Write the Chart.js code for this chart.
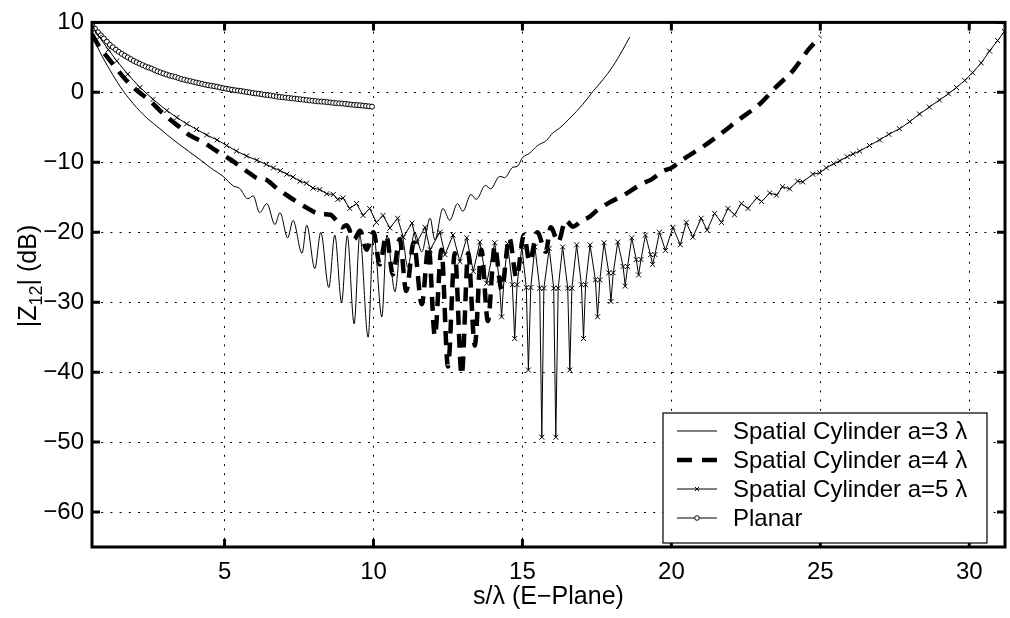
<!DOCTYPE html>
<html>
<head>
<meta charset="utf-8">
<script src="https://cdn.jsdelivr.net/npm/chart.js@4.4.1/dist/chart.umd.min.js"></script>
<style>
  html, body { margin: 0; background: #fff; }
  #wrap { width: 1010px; height: 618px; }
</style>
</head>
<body>
<div id="wrap"><canvas id="c" width="1010" height="618"></canvas></div>
<script>
const FONT = '"Liberation Sans", Arial, Helvetica, sans-serif';

const xTicks = [5, 10, 15, 20, 25, 30];
const yTicks = [-60, -50, -40, -30, -20, -10, 0, 10];
const labels = ['Spatial Cylinder a=3 \u03bb', 'Spatial Cylinder a=4 \u03bb', 'Spatial Cylinder a=5 \u03bb', 'Planar'];

// a = 3 lambda (thin solid)
const x3 = [0.55, 0.8, 1.15, 1.5, 1.93, 2.4, 2.83, 3.05, 3.5, 4.17, 4.6, 4.95, 5.3, 5.5, 5.78, 5.96, 6.18, 6.42, 6.69, 6.86,
  7.12, 7.3, 7.6, 7.76, 8.03, 8.23, 8.5, 8.7, 8.93, 9.12, 9.35, 9.54, 9.82, 10.0, 10.28, 10.45, 10.72, 10.95, 11.15, 11.38,
  11.62, 11.9, 12.06, 12.33, 12.56, 12.82, 13.0, 13.27, 13.45, 13.76, 13.93, 14.24, 14.4, 14.68, 14.82, 15.01, 15.24, 15.51,
  15.8, 16.02, 16.25, 16.59, 17.03, 17.36, 17.7, 18.03, 18.37, 18.6];
const y3 = [8.3, 5.9, 3.2, 0.8, -1.6, -3.7, -5.2, -6.0, -7.5, -9.6, -11.0, -12.0, -13.4, -13.7, -15.2, -14.8, -17.2, -15.9, -18.9, -17.2,
  -20.8, -18.3, -23.0, -19.0, -25.2, -20.0, -27.9, -20.4, -30.0, -20.5, -33.1, -20.4, -35.0, -20.0, -32.1, -20.4, -28.5, -20.4, -25.0, -20.0,
  -22.8, -18.0, -21.1, -16.6, -18.3, -15.9, -17.0, -14.6, -15.3, -13.3, -13.8, -12.0, -12.2, -10.7, -10.6, -9.3, -8.7, -7.6,
  -6.9, -5.8, -5.1, -3.7, -1.7, 0.1, 1.8, 3.7, 6.1, 7.9];

// a = 4 lambda (thick dashed)
const x4 = [0.55, 0.8, 1.26, 1.6, 2.05, 2.5, 2.83, 3.2, 3.5, 3.85, 4.28, 4.6, 4.85, 5.2, 5.5, 5.85, 6.12, 6.35, 6.75, 7.05,
  7.3, 7.55, 7.8, 8.05, 8.3, 8.55, 8.75, 8.93, 9.1, 9.35, 9.55, 9.77, 10.0, 10.21, 10.43, 10.65, 10.88, 11.1, 11.35, 11.62,
  11.85, 12.06, 12.28, 12.5, 12.73, 12.96, 13.18, 13.4, 13.62, 13.84, 14.07, 14.3, 14.56, 14.8, 15.05, 15.24, 15.5, 15.78,
  15.95, 16.2, 16.45, 16.7, 17.0, 17.25, 17.5, 17.9, 18.4, 19.0, 19.35, 19.7, 20.0, 20.35, 21.05, 21.6, 22.3, 22.96,
  23.5, 24.1, 24.6, 25.0];
const y4 = [8.3, 6.5, 4.0, 2.2, 0.3, -1.2, -2.6, -4.0, -5.0, -6.2, -7.1, -8.0, -8.7, -9.6, -10.5, -11.6, -12.3, -12.4, -13.7, -14.6,
  -15.3, -16.0, -16.6, -17.2, -17.4, -17.5, -18.3, -19.3, -19.0, -21.0, -19.8, -22.5, -20.0, -24.6, -20.5, -26.0, -21.0, -28.4, -21.5, -30.3,
  -22.0, -34.8, -22.5, -39.2, -23.0, -40.4, -23.0, -36.2, -22.5, -32.7, -22.0, -28.2, -20.8, -26.5, -20.4, -24.2, -20.0, -22.8,
  -19.3, -21.4, -18.3, -19.2, -18.3, -17.8, -16.9, -15.8, -14.7, -13.1, -12.4, -11.3, -10.8, -9.7, -7.8, -6.1, -3.8, -1.7,
  0.7, 3.2, 6.1, 8.0];

// a = 5 lambda (thin with x markers)
const x5 = [0.55, 0.8, 1.1, 1.38, 1.75, 2.16, 2.6, 3.06, 3.4, 3.73, 4.06, 4.4, 4.75, 5.07, 5.4, 5.74, 6.08, 6.4, 6.64, 6.87,
  7.09, 7.3, 7.53, 7.75, 7.97, 8.2, 8.43, 8.65, 8.8, 8.98, 9.2, 9.43, 9.65, 9.87, 10.1, 10.32, 10.55, 10.81, 11.0, 11.29,
  11.45, 11.73, 11.9, 12.23, 12.4, 12.67, 12.9, 13.13, 13.35, 13.57, 13.8, 14.07, 14.22, 14.3, 14.38, 14.5, 14.66, 14.74, 14.82, 14.98,
  15.13, 15.2, 15.28, 15.42, 15.58, 15.65, 15.72, 15.9, 16.05, 16.12, 16.2, 16.35, 16.52, 16.59, 16.66, 16.82, 16.98, 17.05, 17.12, 17.27,
  17.45, 17.52, 17.6, 17.74, 17.9, 17.97, 18.05, 18.2, 18.38, 18.45, 18.53, 18.67, 18.82, 18.9, 18.98, 19.13, 19.3, 19.37, 19.45, 19.6,
  19.8, 20.05, 20.3, 20.5, 20.72, 21.0, 21.2, 21.45, 21.68, 21.9, 22.12, 22.35, 22.57, 22.87, 23.03, 23.3, 23.53, 23.73, 23.97, 24.24,
  24.41, 24.75, 24.98, 25.2, 25.45, 25.65, 25.9, 26.1, 26.32, 26.65, 26.99, 27.3, 27.66, 28.0, 28.33, 28.66, 29.0, 29.3, 29.57, 29.85,
  30.11, 30.4, 30.68, 30.95, 31.18];
const y5 = [9.6, 7.9, 6.1, 4.5, 2.6, 0.7, -1.0, -2.6, -3.6, -4.5, -5.3, -6.1, -6.8, -7.6, -8.4, -9.1, -9.7, -10.3, -10.8, -11.2,
  -11.7, -12.1, -12.7, -13.0, -13.7, -13.9, -14.5, -14.6, -15.3, -15.1, -16.6, -15.9, -17.6, -16.6, -18.6, -17.6, -19.4, -18.0, -20.7, -18.7,
  -21.5, -19.3, -22.5, -20.0, -23.2, -20.4, -24.2, -20.8, -25.6, -21.4, -27.3, -21.5, -26.8, -32.1, -26.8, -21.6, -27.5, -35.2, -27.5, -22.1,
  -27.9, -39.7, -27.9, -22.1, -28.0, -49.3, -28.0, -22.3, -28.0, -49.3, -28.0, -22.1, -28.0, -39.7, -28.0, -21.8, -27.5, -35.2, -27.5, -21.8,
  -26.8, -32.1, -26.8, -21.5, -25.8, -29.9, -25.8, -21.4, -24.9, -27.7, -24.9, -20.8, -23.9, -26.1, -23.9, -20.4, -23.2, -24.6, -23.2, -20.0,
  -22.6, -19.3, -21.8, -18.6, -20.7, -18.0, -19.7, -17.3, -18.6, -16.6, -17.5, -15.9, -16.6, -15.1, -15.6, -14.4, -14.7, -13.5, -13.8, -12.7,
  -12.8, -11.7, -11.5, -10.8, -10.2, -9.8, -9.2, -8.8, -8.4, -7.6, -6.8, -6.0, -5.2, -4.2, -3.1, -2.1, -1.1, -0.2, 0.7, 1.7,
  2.8, 4.2, 5.9, 7.4, 8.7];

// Planar (thin with open circles)
const xp = [0.55, 0.65, 0.75, 0.85, 0.95, 1.05, 1.15, 1.25, 1.35, 1.45, 1.55, 1.65, 1.75, 1.85, 1.95, 2.05, 2.15, 2.25, 2.35, 2.45,
  2.55, 2.65, 2.75, 2.85, 2.95, 3.05, 3.15, 3.25, 3.35, 3.45, 3.55, 3.65, 3.75, 3.85, 3.95, 4.05, 4.15, 4.25, 4.35, 4.45,
  4.55, 4.65, 4.75, 4.85, 4.95, 5.05, 5.15, 5.25, 5.35, 5.45, 5.55, 5.65, 5.75, 5.85, 5.95, 6.05, 6.15, 6.25, 6.35, 6.45,
  6.55, 6.65, 6.75, 6.85, 6.95, 7.05, 7.15, 7.25, 7.35, 7.45, 7.55, 7.65, 7.75, 7.85, 7.95, 8.05, 8.15, 8.25, 8.35, 8.45,
  8.55, 8.65, 8.75, 8.85, 8.95, 9.05, 9.15, 9.25, 9.35, 9.45, 9.55, 9.65, 9.75, 9.85, 9.95];
const yp = [9.6, 9.1, 8.6, 8.15, 7.7, 7.25, 6.8, 6.45, 6.1, 5.8, 5.5, 5.25, 5.0, 4.75, 4.5, 4.3, 4.1, 3.9, 3.7, 3.55,
  3.4, 3.2, 3.0, 2.85, 2.7, 2.55, 2.4, 2.3, 2.2, 2.05, 1.9, 1.8, 1.7, 1.6, 1.5, 1.4, 1.3, 1.2, 1.1, 1.02,
  0.95, 0.88, 0.8, 0.7, 0.6, 0.52, 0.45, 0.38, 0.3, 0.25, 0.2, 0.12, 0.05, -0.02, -0.1, -0.15, -0.2, -0.28, -0.35, -0.4,
  -0.45, -0.52, -0.6, -0.65, -0.7, -0.75, -0.8, -0.85, -0.9, -0.95, -1.0, -1.05, -1.1, -1.15, -1.2, -1.25, -1.3, -1.32, -1.35, -1.4,
  -1.45, -1.5, -1.55, -1.58, -1.6, -1.65, -1.7, -1.75, -1.8, -1.82, -1.85, -1.9, -1.95, -2.0, -2.05];

const pts = (xs, ys) => xs.map((x, i) => ({ x, y: ys[i] }));
const minus = v => (v < 0 ? '\u2212' + Math.abs(v) : String(v));

// box, inner ticks, axis titles and legend, matlab style
const framePlugin = {
  id: 'frame',
  afterDraw(chart) {
    const { ctx, chartArea: a, scales: { x, y } } = chart;
    ctx.save();
    ctx.strokeStyle = '#000';
    ctx.lineWidth = 3;
    ctx.setLineDash([]);
    ctx.strokeRect(a.left, a.top, a.right - a.left, a.bottom - a.top);
    ctx.beginPath();
    xTicks.forEach(v => {
      const px = x.getPixelForValue(v);
      ctx.moveTo(px, a.bottom); ctx.lineTo(px, a.bottom - 8);
      ctx.moveTo(px, a.top); ctx.lineTo(px, a.top + 8);
    });
    yTicks.forEach(v => {
      const py = y.getPixelForValue(v);
      ctx.moveTo(a.left, py); ctx.lineTo(a.left + 8, py);
      ctx.moveTo(a.right, py); ctx.lineTo(a.right - 8, py);
    });
    ctx.stroke();

    // x title
    ctx.fillStyle = '#000';
    ctx.font = '25px ' + FONT;
    ctx.textAlign = 'center';
    ctx.textBaseline = 'middle';
    ctx.fillText('s/\u03bb (E\u2212Plane)', (a.left + a.right) / 2, 597);

    // y title with subscript
    ctx.translate(27, 276);
    ctx.rotate(-Math.PI / 2);
    ctx.textAlign = 'left';
    ctx.textBaseline = 'alphabetic';
    const big = '25px ' + FONT, small = '18px ' + FONT;
    ctx.font = big; const w1 = ctx.measureText('|Z').width, w3 = ctx.measureText('| (dB)').width;
    ctx.font = small; const w2 = ctx.measureText('12').width;
    let cx = -(w1 + w2 + w3) / 2;
    ctx.font = big; ctx.fillText('|Z', cx, 9); cx += w1;
    ctx.font = small; ctx.fillText('12', cx, 15); cx += w2;
    ctx.font = big; ctx.fillText('| (dB)', cx, 9);
    ctx.setTransform(1, 0, 0, 1, 0, 0);

    // legend
    const L = 663, T = 413, R = 987, B = 543;
    ctx.fillStyle = '#fff';
    ctx.fillRect(L, T, R - L, B - T);
    ctx.lineWidth = 1.2;
    ctx.strokeRect(L, T, R - L, B - T);
    const rows = [431, 460, 489, 518];
    ctx.font = '24px ' + FONT;
    ctx.textAlign = 'left';
    ctx.textBaseline = 'middle';
    rows.forEach((ry, i) => {
      ctx.strokeStyle = '#000';
      ctx.beginPath();
      if (i === 1) {
        ctx.lineWidth = 4.5;
        ctx.moveTo(677, ry); ctx.lineTo(692, ry);
        ctx.moveTo(702, ry); ctx.lineTo(717, ry);
      } else {
        ctx.lineWidth = 1;
        ctx.moveTo(677, ry); ctx.lineTo(717, ry);
      }
      ctx.stroke();
      if (i === 2) {
        ctx.beginPath();
        ctx.moveTo(695, ry - 2); ctx.lineTo(699, ry + 2);
        ctx.moveTo(695, ry + 2); ctx.lineTo(699, ry - 2);
        ctx.stroke();
      }
      if (i === 3) {
        ctx.beginPath();
        ctx.arc(697, ry, 2.3, 0, Math.PI * 2);
        ctx.fillStyle = '#fff'; ctx.fill(); ctx.stroke();
      }
      ctx.fillStyle = '#000';
      ctx.fillText(labels[i], 733, ry + 1);
    });
    ctx.restore();
  }
};

new Chart(document.getElementById('c'), {
  type: 'line',
  data: {
    datasets: [
      { label: labels[0], data: pts(x3, y3), borderColor: '#000', borderWidth: 1, pointRadius: 0,
        cubicInterpolationMode: 'monotone' },
      { label: labels[1], data: pts(x4, y4), borderColor: '#000', borderWidth: 4.5, borderDash: [14, 9],
        pointRadius: 0, cubicInterpolationMode: 'monotone' },
      { label: labels[2], data: pts(x5, y5), borderColor: '#000', borderWidth: 1, pointStyle: 'crossRot',
        pointRadius: 3.5, pointBorderWidth: 1, pointBorderColor: '#000', pointBackgroundColor: '#000' },
      { label: labels[3], data: pts(xp, yp), borderColor: '#000', borderWidth: 1, pointStyle: 'circle',
        pointRadius: 2.5, pointBorderWidth: 1, pointBorderColor: '#000', pointBackgroundColor: '#fff' }
    ]
  },
  options: {
    responsive: false,
    animation: false,
    devicePixelRatio: 1,
    layout: { padding: { left: 0, top: 14, right: 4, bottom: 0 } },
    plugins: { legend: { display: false }, tooltip: { enabled: false } },
    scales: {
      x: {
        type: 'linear', min: 0.55, max: 31.2,
        afterBuildTicks: s => { s.ticks = xTicks.map(v => ({ value: v })); },
        afterFit: s => { s.height = 71; },
        grid: { color: '#000', lineWidth: 1, drawTicks: false },
        border: { display: false, dash: [2, 7.2] },
        ticks: { color: '#000', padding: 11, maxRotation: 0, font: { family: FONT, size: 24 }, callback: v => minus(v) }
      },
      y: {
        type: 'linear', min: -65, max: 10,
        afterBuildTicks: s => { s.ticks = yTicks.map(v => ({ value: v })); },
        afterFit: s => { s.width = 92; },
        grid: { color: '#000', lineWidth: 1, drawTicks: false },
        border: { display: false, dash: [2, 7.2] },
        ticks: { color: '#000', padding: 8, font: { family: FONT, size: 24 }, callback: v => minus(v) }
      }
    }
  },
  plugins: [framePlugin]
});
</script>
</body>
</html>
